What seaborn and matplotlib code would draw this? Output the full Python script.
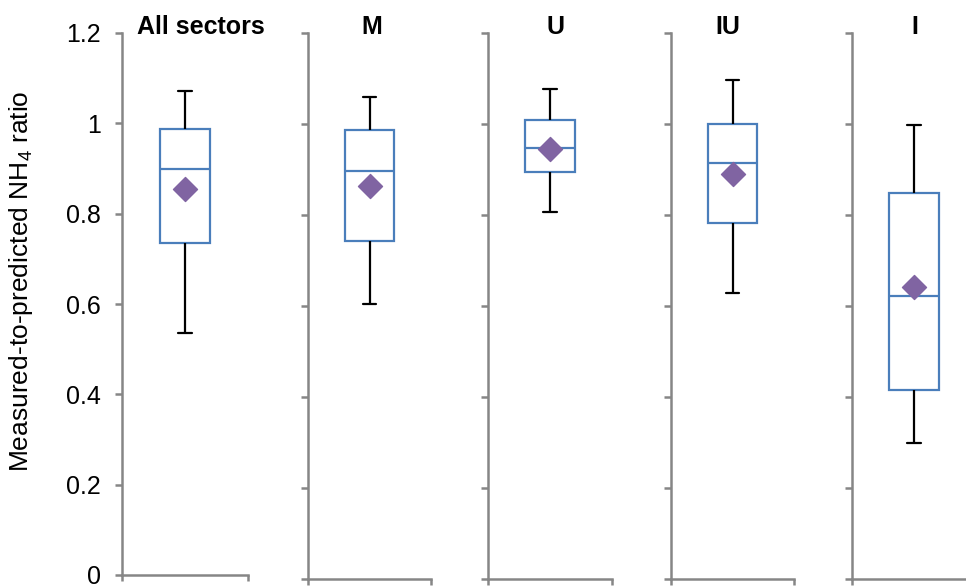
import numpy as np
import pandas as pd
import matplotlib
matplotlib.use("Agg")
import matplotlib.pyplot as plt
import seaborn as sns

# Box statistics per sector (ratio of measured to predicted NH4)
sectors = ["All sectors", "M", "U", "IU", "I"]
whisker_low = [0.536, 0.604, 0.807, 0.629, 0.300]
q1 = [0.735, 0.743, 0.894, 0.783, 0.415]
median = [0.899, 0.897, 0.948, 0.914, 0.623]
q3 = [0.988, 0.987, 1.008, 1.000, 0.848]
whisker_high = [1.071, 1.059, 1.076, 1.097, 0.998]
means = [0.855, 0.864, 0.945, 0.890, 0.642]

y_ticks = [0, 0.2, 0.4, 0.6, 0.8, 1.0, 1.2]
y_tick_labels = ["0", "0.2", "0.4", "0.6", "0.8", "1", "1.2"]

# five-number tables: with n=5 the quartiles fall exactly on the 2nd and 4th values
rows = []
for s, lo, a, m, b, hi in zip(sectors, whisker_low, q1, median, q3, whisker_high):
    for v in (lo, a, m, b, hi):
        rows.append({"sector": s, "ratio": v})
df = pd.DataFrame(rows)
mean_df = pd.DataFrame({"sector": sectors, "ratio": means})

sns.set_theme(style="white")
plt.rcParams["font.family"] = ["Liberation Sans", "DejaVu Sans"]
plt.rcParams["mathtext.default"] = "regular"
plt.rcParams["text.color"] = "black"

W, H = 966, 586
fig = plt.figure(figsize=(W / 100, H / 100), dpi=100)

box_blue = "#4A7EBB"
mean_purple = "#8064A2"
axis_gray = "#868686"

lefts = [122, 308, 488, 671, 852]
widths = [126, 123, 124, 123, 124]
bottoms = [575, 579, 579, 579, 579]
top = 33
title_x = [201, 372, 555, 728, 915]

for i, s in enumerate(sectors):
    l, w, b = lefts[i], widths[i], bottoms[i]
    ax = fig.add_axes([l / W, 1 - b / H, w / W, (b - top) / H])
    sub = df[df["sector"] == s]
    sns.boxplot(
        data=sub, y="ratio", ax=ax, width=0.4, whis=np.inf, color="white",
        linewidth=1.6, showfliers=False, capwidths=0.11,
        boxprops={"edgecolor": box_blue, "facecolor": "white"},
        medianprops={"color": box_blue},
        whiskerprops={"color": "black"},
        capprops={"color": "black"},
    )
    sns.scatterplot(
        data=mean_df[mean_df["sector"] == s], x=[0], y="ratio", ax=ax,
        marker="D", s=150, color=mean_purple, edgecolor=mean_purple, zorder=5,
    )
    ax.set_xlim(-0.5, 0.5)
    ax.set_ylim(0, 1.2)
    ax.set_yticks(y_ticks)
    if i == 0:
        ax.set_yticklabels(y_tick_labels, fontsize=18)
    else:
        ax.set_yticklabels([])
    ax.set_xticks([-0.5, 0.5])
    ax.set_xticklabels([])
    ax.set_xlabel("")
    ax.set_ylabel("")
    for side in ("top", "right"):
        ax.spines[side].set_visible(False)
    for side in ("left", "bottom"):
        ax.spines[side].set_color(axis_gray)
        ax.spines[side].set_linewidth(1.8)
    ax.tick_params(axis="y", direction="out", length=5, width=1.8, color=axis_gray,
                   pad=10, left=True, labelcolor="black")
    ax.tick_params(axis="x", direction="out", length=4, width=1.8, color=axis_gray,
                   bottom=True)
    ax.patch.set_alpha(0)
    fig.text(title_x[i] / W, 1 - 34 / H, s, ha="center", va="baseline",
             fontsize=18, fontweight="bold", color="black")

fig.text(21 / W, 1 - 281 / H, "Measured-to-predicted NH$_4$ ratio", rotation=90,
         ha="center", va="center", fontsize=19, color="black")

fig.savefig("out.png", dpi=100)
